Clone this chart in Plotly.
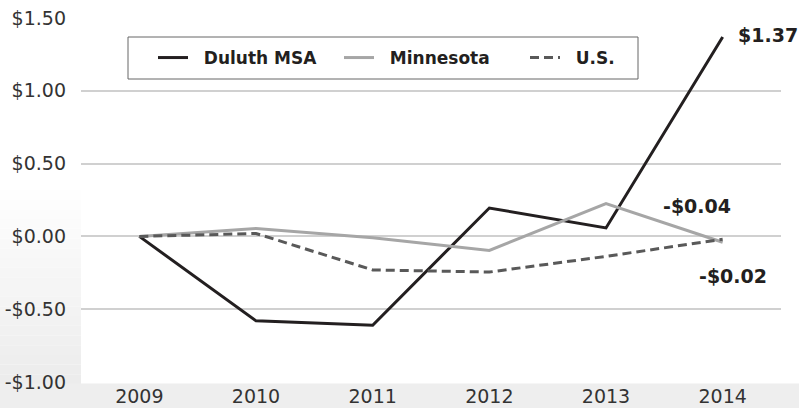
import plotly.graph_objects as go

years = ["2009", "2010", "2011", "2012", "2013", "2014"]
duluth = [0.0, -0.58, -0.61, 0.195, 0.058, 1.37]
minnesota = [0.0, 0.055, -0.01, -0.096, 0.225, -0.04]
us = [0.0, 0.02, -0.23, -0.245, -0.137, -0.02]
series_names = ["Duluth MSA", "Minnesota", "U.S."]
ytick_vals = [-1.0, -0.5, 0.0, 0.5, 1.0, 1.5]
ytick_text = ["-$1.00", "-$0.50", "$0.00", "$0.50", "$1.00", "$1.50"]
end_labels = ["$1.37", "-$0.04", "-$0.02"]

W, H = 799, 408
ML, MR, MT, MB = 81, 18, 18, 26
PW, PH = W - ML - MR, H - MT - MB

def px_x(p):
    return (p - ML) / PW

def px_y(p):
    return 1 - (p - MT) / PH

FONT = "DejaVu Sans, Verdana, sans-serif"
NB = "\u00a0\u00a0"

fig = go.Figure()
fig.add_trace(go.Scatter(x=years, y=duluth, mode="lines", name=NB + "<b>" + series_names[0] + "</b>",
                         line=dict(color="#231f20", width=3)))
fig.add_trace(go.Scatter(x=years, y=minnesota, mode="lines", name=NB + "<b>" + series_names[1] + "</b>",
                         line=dict(color="#a6a6a6", width=3)))
fig.add_trace(go.Scatter(x=years, y=us, mode="lines", name=NB + "<b>" + series_names[2] + "</b>",
                         line=dict(color="#595959", width=3, dash="9px,5px")))

# background gradient in left margin and bottom strip
shapes = []
n = 20
y0p, y1p = 190, 384
for i in range(n):
    a = y0p + (y1p - y0p) * i / n
    b = y0p + (y1p - y0p) * (i + 1) / n
    g = int(255 - (255 - 236) * (i + 0.5) / n)
    col = f"rgb({g},{g},{g})"
    shapes.append(dict(type="rect", xref="paper", yref="paper", layer="below",
                       x0=px_x(0), x1=px_x(ML), y0=px_y(b), y1=px_y(a),
                       fillcolor=col, line=dict(width=0)))
shapes.append(dict(type="rect", xref="paper", yref="paper", layer="below",
                   x0=px_x(0), x1=px_x(W), y0=px_y(H), y1=px_y(383.5),
                   fillcolor="rgb(238,238,238)", line=dict(width=0)))
# legend frame
shapes.append(dict(type="rect", xref="paper", yref="paper", layer="above",
                   x0=px_x(128), x1=px_x(638), y0=px_y(79), y1=px_y(37),
                   fillcolor="rgba(0,0,0,0)", line=dict(color="#666666", width=1)))

last = len(years) - 1
ann_font = dict(family=FONT, size=19, color="#231f20")
annotations = [
    dict(x=last, y=duluth[-1], text="<b>" + end_labels[0] + "</b>", showarrow=False,
         xanchor="left", yanchor="middle", xshift=13, yshift=2, font=ann_font),
    dict(x=last, y=minnesota[-1], text="<b>" + end_labels[1] + "</b>", showarrow=False,
         xanchor="center", yanchor="middle", xshift=-26, yshift=36, font=ann_font),
    dict(x=last, y=us[-1], text="<b>" + end_labels[2] + "</b>", showarrow=False,
         xanchor="center", yanchor="middle", xshift=10, yshift=-37, font=ann_font),
]

fig.update_layout(
    width=W, height=H,
    margin=dict(l=ML, r=MR, t=MT, b=MB, autoexpand=False),
    paper_bgcolor="white", plot_bgcolor="white",
    font=dict(family=FONT, size=19, color="#333333"),
    showlegend=True,
    legend=dict(orientation="h", x=px_x(153), y=px_y(40), xanchor="left", yanchor="top",
                borderwidth=0, bgcolor="rgba(0,0,0,0)",
                font=dict(family=FONT, size=17, color="#231f20"),
                entrywidth=141),
    xaxis=dict(type="category", range=[-0.5, 5.5], showgrid=False, zeroline=False,
               showline=False, ticks="", automargin=False, ticklabelstandoff=1,
               tickfont=dict(size=19, color="#333333")),
    yaxis=dict(range=[-1.0, 1.5], tickvals=ytick_vals, ticktext=ytick_text,
               showgrid=True, gridcolor="#d0d0d0", gridwidth=2, zeroline=False,
               showline=False, ticks="", ticklabelstandoff=14, automargin=False,
               tickfont=dict(size=19, color="#333333")),
    shapes=shapes,
    annotations=annotations,
)

fig.write_html("out.html", config={"displayModeBar": False},
               post_script="document.body.style.margin='0';document.body.style.overflow='hidden';")
